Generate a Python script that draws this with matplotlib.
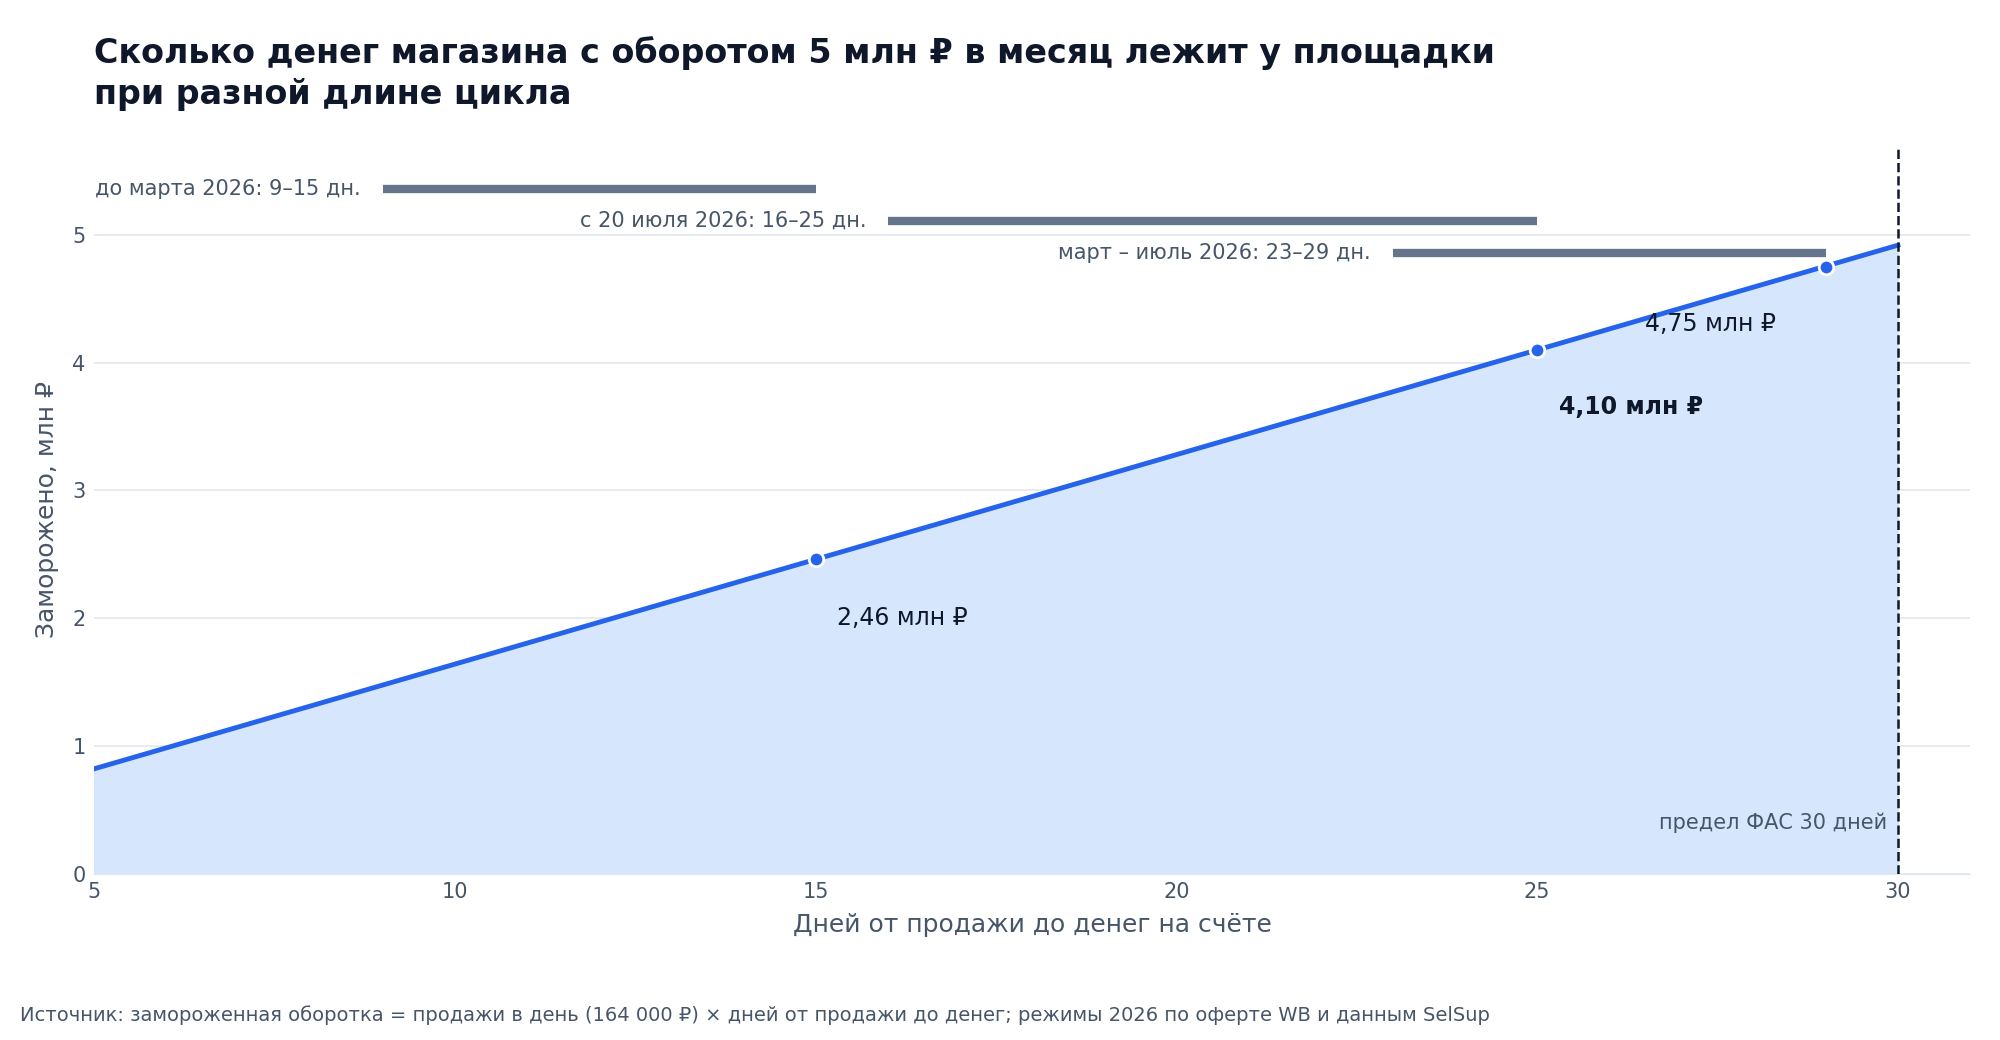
import numpy as np
import matplotlib.pyplot as plt

plt.rcParams['font.family'] = ['DejaVu Sans']

# данные
daily_sales = 0.164  # млн ₽ в день
days = [5, 30]
frozen = [d * daily_sales for d in days]
point_days = [15, 25, 29]
point_vals = [2.46, 4.10, 4.75]
point_labels = ["2,46 млн ₽", "4,10 млн ₽", "4,75 млн ₽"]
regime_labels = ["до марта 2026: 9–15 дн.", "с 20 июля 2026: 16–25 дн.", "март – июль 2026: 23–29 дн."]
regime_start = [9, 16, 23]
regime_end = [15, 25, 29]
regime_y = [5.36, 5.11, 4.86]

fig = plt.figure(figsize=(20, 10.4), dpi=100)
ax = fig.add_axes([0.047, 0.16, 0.938, 0.70])

ax.fill_between(days, frozen, 0, color="#d6e7fd", zorder=1)
ax.plot(days, frozen, color="#2563eb", lw=3.5, zorder=3)
ax.scatter(point_days, point_vals, s=110, color="#2563eb", edgecolors="white",
           linewidths=2, zorder=4)

ax.text(15.3, 2.0, point_labels[0], fontsize=17, color="#0f172a", va="center")
ax.text(25.3, 3.65, point_labels[1], fontsize=17, color="#0f172a", va="center", fontweight="bold")
ax.text(26.5, 4.3, point_labels[2], fontsize=17, color="#0f172a", va="center")

for lab, s, e, y in zip(regime_labels, regime_start, regime_end, regime_y):
    ax.plot([s, e], [y, y], color="#64748b", lw=6, solid_capstyle="butt", zorder=3, clip_on=False)
    ax.text(s - 0.3, y, lab, ha="right", va="center", fontsize=15, color="#475569")

ax.axvline(30, color="#0f172a", lw=1.8, ls="--", zorder=5)
ax.text(29.85, 0.4, "предел ФАС 30 дней", ha="right", va="center", fontsize=15, color="#475569")

ax.set_xlim(5, 31)
ax.set_ylim(0, 5.7)
ax.set_xticks([5, 10, 15, 20, 25, 30])
ax.set_yticks([0, 1, 2, 3, 4, 5])
ax.grid(axis="y", color="#e2e8f0", lw=1.2)
ax.set_axisbelow(True)
for side in ["top", "right", "left"]:
    ax.spines[side].set_visible(False)
ax.spines["bottom"].set_color("#e2e8f0")
ax.tick_params(length=0, labelsize=15, labelcolor="#475569", pad=6)
ax.set_xlabel("Дней от продажи до денег на счёте", fontsize=18, color="#475569", labelpad=8)
ax.set_ylabel("Заморожено, млн ₽", fontsize=18, color="#475569", labelpad=10)

fig.text(0.047, 0.965, "Сколько денег магазина с оборотом 5 млн ₽ в месяц лежит у площадки\nпри разной длине цикла",
         fontsize=24, fontweight="bold", color="#0f172a", va="top", linespacing=1.3)
fig.text(0.01, 0.018, "Источник: замороженная оборотка = продажи в день (164 000 ₽) × дней от продажи до денег; режимы 2026 по оферте WB и данным SelSup",
         fontsize=14, color="#475569")

fig.savefig("out.png", dpi=100)
